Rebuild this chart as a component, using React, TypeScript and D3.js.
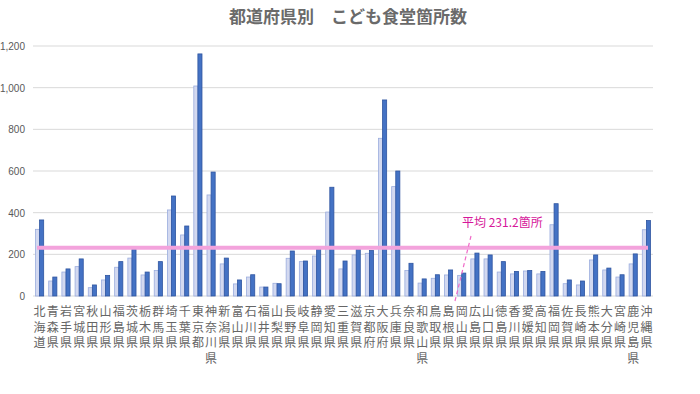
import React from "react";
import * as d3 from "d3";

const prefectures = ["北海道","青森県","岩手県","宮城県","秋田県","山形県","福島県","茨城県","栃木県","群馬県","埼玉県","千葉県","東京都","神奈川県","新潟県","富山県","石川県","福井県","山梨県","長野県","岐阜県","静岡県","愛知県","三重県","滋賀県","京都府","大阪府","兵庫県","奈良県","和歌山県","鳥取県","島根県","岡山県","広島県","山口県","徳島県","香川県","愛媛県","高知県","福岡県","佐賀県","長崎県","熊本県","大分県","宮崎県","鹿児島県","沖縄県"];
const seriesPrev = [320,72,115,141,40,77,138,182,101,122,413,293,1008,485,154,58,91,43,61,181,165,192,403,130,197,205,757,525,122,62,85,101,99,178,178,115,106,120,106,342,59,53,173,125,91,154,318];
const seriesCurr = [365,91,130,178,53,99,165,226,115,165,480,336,1162,595,182,77,102,43,59,216,168,224,522,168,224,218,941,600,157,82,102,125,110,206,197,165,118,122,118,443,77,72,197,134,102,202,362];
const yTicks = [0,200,400,600,800,1000,1200];
const average = 231.2;
const title = "都道府県別　こども食堂箇所数";
const avgLabel = "平均 231.2箇所";

export default function App() {
  const W = 700, H = 394;
  const left = 33, right = 653, top = 46, bottom = 296;
  const x = d3.scaleBand<string>().domain(prefectures).range([left, right]).paddingInner(0.38).paddingOuter(0.19);
  const inner = d3.scaleBand<string>().domain(["prev","curr"]).range([0, x.bandwidth()]).padding(0.0);
  const y = d3.scaleLinear().domain([0, 1200]).range([bottom, top]);
  const font = "'Noto Sans CJK JP', 'Noto Sans', sans-serif";
  const gray = "#595959";
  return (
    <svg width={W} height={H} style={{ position: "absolute", left: 0, top: 0, background: "#fff" }} fontFamily={font}>
      <rect x={0} y={0} width={W} height={H} fill="#fff" />
      <text x={348} y={23} textAnchor="middle" fontSize={17} fontWeight={700} fill="#6a6a6a">{title}</text>
      {yTicks.map(t => (
        <g key={t}>
          <line x1={left} x2={right} y1={y(t)} y2={y(t)} stroke="#d9d9d9" strokeWidth={1} />
          <text x={25} y={y(t) + 4} textAnchor="end" fontSize={10} fill={gray} fontFamily="'Liberation Sans Narrow', 'Liberation Sans', sans-serif">{d3.format(",")(t)}</text>
        </g>
      ))}
      {prefectures.map((p, i) => {
        const x0 = x(p)!;
        return (
          <g key={p}>
            <rect x={x0 + inner("prev")!} y={y(seriesPrev[i])} width={inner.bandwidth()} height={bottom - y(seriesPrev[i])} fill="#d3d9f0" stroke="#9badde" strokeWidth={0.8} />
            <rect x={x0 + inner("curr")!} y={y(seriesCurr[i])} width={inner.bandwidth()} height={bottom - y(seriesCurr[i])} fill="#4472c4" stroke="#2f55a0" strokeWidth={0.8} />
          </g>
        );
      })}
      <line x1={37} x2={648} y1={y(average)} y2={y(average)} stroke="#f3a3dc" strokeWidth={4} />
      <line x1={471} y1={236} x2={455} y2={301} stroke="#f06ac8" strokeWidth={1.2} strokeDasharray="4,3" />
      <text x={462} y={227} fontSize={12} fill="#d6179a">{avgLabel}</text>
      {prefectures.map(p => {
        const cx = x(p)! + x.bandwidth() / 2;
        return (
          <text key={p} textAnchor="middle" fontSize={12} fill="#666">
            {Array.from(p).map((ch, j) => (
              <tspan key={j} x={cx} y={316 + j * 15.5}>{ch}</tspan>
            ))}
          </text>
        );
      })}
    </svg>
  );
}
